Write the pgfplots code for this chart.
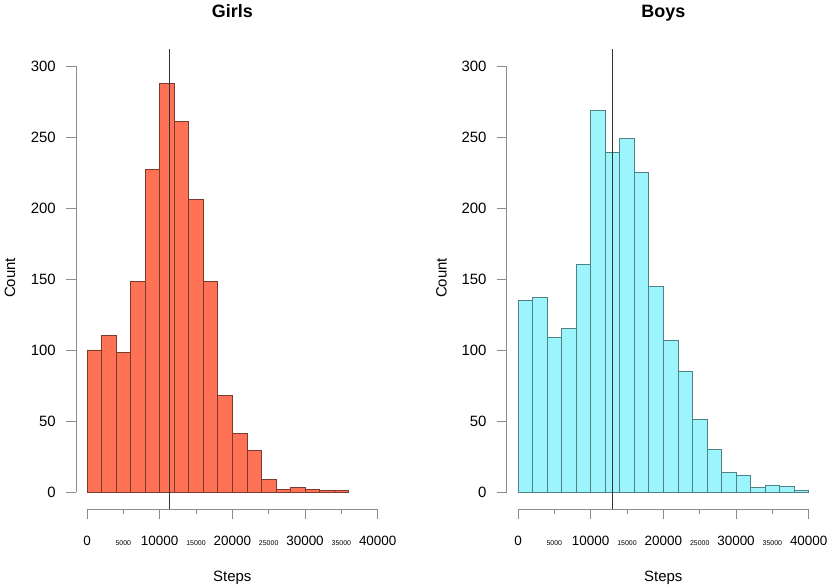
\documentclass[border=0pt]{standalone}
\usepackage{pgfplots}
\pgfplotsset{compat=1.18}
\usepackage{fontspec}
\setmainfont{Liberation Sans}
\definecolor{girlfill}{HTML}{FF7256}
\definecolor{girledge}{HTML}{7A3A2C}
\definecolor{boyfill}{HTML}{9CF4FC}
\definecolor{boyedge}{HTML}{4F8285}
\definecolor{tickgray}{HTML}{8C8C8C}
\definecolor{meanline}{HTML}{333333}
\newcommand{\fbig}{\fontsize{15}{15}\selectfont}
\newcommand{\fmid}{\fontsize{13.5}{13.5}\selectfont}
\newcommand{\fsml}{\fontsize{7}{7}\selectfont}
\pgfplotsset{
  histo/.style={
    scale only axis, height=460bp, anchor=south west,
    ymin=-12, ymax=312, xmax=40000,
    clip=false,
    axis line style={draw=none},
    tick align=outside, tick pos=left,
    scaled x ticks=false, scaled y ticks=false,
    xtick={0,10000,20000,30000,40000}, xticklabels={},
    minor xtick={5000,15000,25000,35000},
    ytick={0,50,100,150,200,250,300}, yticklabels={},
    major tick length=10bp, minor tick length=5bp,
    every tick/.style={draw=tickgray, line width=0.8bp},
    minor tick style={draw=tickgray, line width=0.8bp},
  }
}
\newcommand{\panellabels}[1]{%
\pgfplotsinvokeforeach{0,50,100,150,200,250,300}{\node[anchor=east, inner sep=0pt, font=\fbig] at (axis cs:#1,##1) [xshift=-20bp] {##1};}%
\pgfplotsinvokeforeach{0,10000,20000,30000,40000}{\node[anchor=base, inner sep=0pt, font=\fmid] at (axis cs:##1,-12) [yshift=-36bp] {##1};}%
\pgfplotsinvokeforeach{5000,15000,25000,35000}{\node[anchor=base, inner sep=0pt, font=\fsml] at (axis cs:##1,-12) [yshift=-36bp] {##1};}%
}
\begin{document}
\begin{tikzpicture}[x=1bp,y=1bp]
\path[use as bounding box] (0bp,0bp) rectangle (829bp,588bp);
% Girls
\begin{axis}[histo, at={(76bp,79bp)}, width=301.7bp, xmin=-1514]
\addplot[ybar interval, fill=girlfill, draw=girledge, line width=0.7bp] coordinates {
(0,100)(2000,110)(4000,98)(6000,148)(8000,227)(10000,288)(12000,261)(14000,206)(16000,148)(18000,68)(20000,41)(22000,29)(24000,9)(26000,2)(28000,3)(30000,2)(32000,1)(34000,1)(36000,0)};
\addplot[meanline, line width=1.1bp] coordinates {(11329,-12)(11329,312)};
\addplot[tickgray, line width=0.8bp] coordinates {(0,-12)(40000,-12)};
\addplot[tickgray, line width=0.8bp] coordinates {(-1514,0)(-1514,300)};
\panellabels{-1514}
\end{axis}
% Boys
\begin{axis}[histo, at={(506.7bp,79bp)}, width=302bp, xmin=-1555]
\addplot[ybar interval, fill=boyfill, draw=boyedge, line width=0.7bp] coordinates {
(0,135)(2000,137)(4000,109)(6000,115)(8000,160)(10000,269)(12000,239)(14000,249)(16000,225)(18000,145)(20000,107)(22000,85)(24000,51)(26000,30)(28000,14)(30000,12)(32000,3)(34000,5)(36000,4)(38000,1)(40000,0)};
\addplot[meanline, line width=1.1bp] coordinates {(13030,-12)(13030,312)};
\addplot[tickgray, line width=0.8bp] coordinates {(0,-12)(40000,-12)};
\addplot[tickgray, line width=0.8bp] coordinates {(-1555,0)(-1555,300)};
\panellabels{-1555}
\end{axis}
% titles and axis labels
\node[anchor=base, font=\fontsize{18}{18}\selectfont\bfseries] at (232.3bp,570.7bp) {Girls};
\node[anchor=base, font=\fontsize{18}{18}\selectfont\bfseries] at (663.3bp,570.7bp) {Boys};
\node[anchor=base, font=\fbig] at (232.3bp,7bp) {Steps};
\node[anchor=base, font=\fbig] at (663.3bp,7bp) {Steps};
\node[anchor=base, rotate=90, font=\fbig] at (15bp,310bp) {Count};
\node[anchor=base, rotate=90, font=\fbig] at (446.7bp,310bp) {Count};
\end{tikzpicture}
\end{document}
